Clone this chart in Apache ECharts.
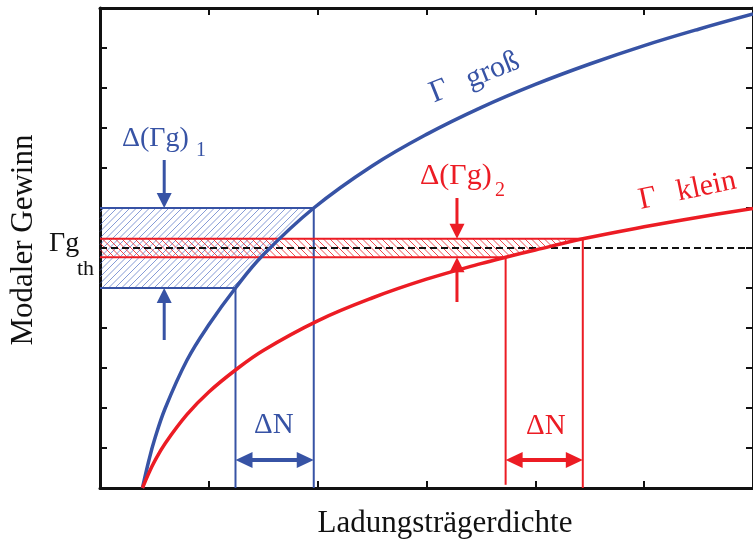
<!DOCTYPE html>
<html>
<head>
<meta charset="utf-8">
<script src="https://cdn.jsdelivr.net/npm/echarts@6/dist/echarts.min.js"></script>
<style>
  html, body { margin: 0; padding: 0; background: #ffffff; }
  #chart { width: 753px; height: 542px; }
</style>
</head>
<body>
<div id="chart"></div>
<script>
// Modal gain vs. carrier density (arbitrary units) for a large and a small confinement factor
const densityLarge = [0.39, 0.45, 0.5, 0.6, 0.8, 1.0, 1.245, 1.5, 1.964, 2.5, 3.0, 3.5, 4.0, 4.5, 5.0, 5.5, 6.0];
const gainLarge    = [0, 0.7, 1.2, 2.0, 3.2, 4.08, 5.0, 5.83, 7.0, 8.05, 8.84, 9.51, 10.09, 10.6, 11.06, 11.47, 11.85];

const densitySmall = [0.39, 0.45, 0.5, 0.6, 0.8, 1.0, 1.245, 1.5, 2.0, 2.5, 3.0, 3.5, 3.727, 4.0, 4.436, 5.0, 5.5, 6.0];
const gainSmall    = [0, 0.38, 0.66, 1.12, 1.84, 2.40, 2.95, 3.44, 4.18, 4.75, 5.22, 5.61, 5.77, 5.95, 6.23, 6.53, 6.77, 6.99];

// Threshold gain and the gain windows Δ(Γg) with the matching density windows ΔN
const thresholdGain = 6.0;
const gainWindowLarge = [5.0, 7.0];
const densityWindowLarge = [1.245, 1.964];
const gainWindowSmall = [5.77, 6.23];
const densityWindowSmall = [3.727, 4.436];

// Arrow markers: density position, tail of the downward arrow, tail of the upward arrow
const gainArrowLarge = [0.59, 8.2, 3.7];
const gainArrowSmall = [3.28, 7.25, 4.65];
const deltaNArrowLevel = 0.7;

const BLUE = '#3753a5';
const RED = '#ec1c24';
const SERIF = '"Liberation Serif", "Times New Roman", serif';

// hatch lines clipped to a polygon, drawn as plain line elements
function pointInPolygon(p, poly) {
  let inside = false;
  for (let i = 0, j = poly.length - 1; i < poly.length; j = i++) {
    const xi = poly[i][0], yi = poly[i][1], xj = poly[j][0], yj = poly[j][1];
    if ((yi > p[1]) !== (yj > p[1]) && p[0] < (xj - xi) * (p[1] - yi) / (yj - yi) + xi) inside = !inside;
  }
  return inside;
}

function hatchLines(poly, color, gap, slope, width) {
  // lines x - slope*y = const (slope>0 gives '\', slope<0 gives '/')
  const xs = poly.map(p => p[0]), ys = poly.map(p => p[1]);
  const x0 = Math.min(...xs), x1 = Math.max(...xs), y0 = Math.min(...ys), y1 = Math.max(...ys);
  const cs = [x0 - slope * y0, x0 - slope * y1, x1 - slope * y0, x1 - slope * y1];
  const cMin = Math.min(...cs), cMax = Math.max(...cs);
  const out = [];
  const step = 0.5;
  for (let c = Math.floor(cMin / gap) * gap; c <= cMax; c += gap) {
    let start = null, last = null;
    for (let y = y0; y <= y1 + 0.001; y += step) {
      const p = [c + slope * y, y];
      const ins = pointInPolygon(p, poly);
      if (ins && !start) start = p;
      if (ins) last = p;
      if ((!ins || y + step > y1 + 0.001) && start) {
        out.push({ type: 'line', shape: { x1: start[0], y1: start[1], x2: last[0], y2: last[1] },
          style: { stroke: color, lineWidth: width } });
        start = null;
      }
    }
  }
  return out;
}

const chart = echarts.init(document.getElementById('chart'), null, { renderer: 'canvas' });

function curvePoints(xs, ys) {
  return xs.map((x, i) => [x, ys[i]]);
}

// polygon between the gain axis, the two window levels and the gain curve
function windowPolygon(api, xs, ys, win, nWin) {
  const pts = [api.coord([0, win[1]]), api.coord([nWin[1], win[1]])];
  for (let i = xs.length - 1; i >= 0; i--) {
    if (xs[i] < nWin[1] && xs[i] > nWin[0]) pts.push(api.coord([xs[i], ys[i]]));
  }
  pts.push(api.coord([nWin[0], win[0]]));
  pts.push(api.coord([0, win[0]]));
  return pts;
}

function seg(a, b, color, width, dash) {
  return {
    type: 'line',
    shape: { x1: a[0], y1: a[1], x2: b[0], y2: b[1] },
    style: { stroke: color, lineWidth: width, lineDash: dash || null }
  };
}

function arrowHead(tip, dx, dy, color, len, half) {
  // dx,dy: unit direction the arrow points to
  const bx = tip[0] - dx * len, by = tip[1] - dy * len;
  return {
    type: 'polygon',
    shape: { points: [tip, [bx - dy * half, by + dx * half], [bx + dy * half, by - dx * half]] },
    style: { fill: color }
  };
}

function verticalArrow(api, n, from, to, color) {
  const a = api.coord([n, from]), b = api.coord([n, to]);
  const dir = b[1] > a[1] ? 1 : -1;
  return [
    seg(a, [b[0], b[1] - dir * 12], color, 3),
    arrowHead(b, 0, dir, color, 15, 7.5)
  ];
}

function doubleArrow(api, n0, n1, level, color) {
  const a = api.coord([n0, level]), b = api.coord([n1, level]);
  return [
    seg([a[0] + 14, a[1]], [b[0] - 14, b[1]], color, 4),
    arrowHead(a, -1, 0, color, 17, 8),
    arrowHead(b, 1, 0, color, 17, 8)
  ];
}

function renderHatch(params, api) {
  const polyLarge = windowPolygon(api, densityLarge, gainLarge, gainWindowLarge, densityWindowLarge);
  const polySmall = windowPolygon(api, densitySmall, gainSmall, gainWindowSmall, densityWindowSmall);
  return {
    type: 'group',
    children: hatchLines(polyLarge, '#5270c4', 6.5, -1, 0.7)
      .concat(hatchLines(polySmall, RED, 6.5, 1, 0.8))
  };
}

function renderMarks(params, api) {
  const c = [];
  const P = (x, y) => api.coord([x, y]);
  // large-Γ window
  c.push(seg(P(0, gainWindowLarge[1]), P(densityWindowLarge[1], gainWindowLarge[1]), BLUE, 2));
  c.push(seg(P(0, gainWindowLarge[0]), P(densityWindowLarge[0], gainWindowLarge[0]), BLUE, 2));
  c.push(seg(P(densityWindowLarge[0], gainWindowLarge[0]), P(densityWindowLarge[0], 0), BLUE, 2));
  c.push(seg(P(densityWindowLarge[1], gainWindowLarge[1]), P(densityWindowLarge[1], 0), BLUE, 2));
  // small-Γ window
  c.push(seg(P(0, gainWindowSmall[1]), P(densityWindowSmall[1], gainWindowSmall[1]), RED, 2));
  c.push(seg(P(0, gainWindowSmall[0]), P(densityWindowSmall[0], gainWindowSmall[0]), RED, 2));
  c.push(seg(P(densityWindowSmall[0], gainWindowSmall[0]), P(densityWindowSmall[0], 0.08), RED, 2));
  c.push(seg(P(densityWindowSmall[1], gainWindowSmall[1]), P(densityWindowSmall[1], 0), RED, 2));
  // threshold
  c.push(seg(P(0, thresholdGain), P(6, thresholdGain), '#111111', 2.2, [7, 4]));
  // Δ(Γg) arrows
  c.push(...verticalArrow(api, gainArrowLarge[0], gainArrowLarge[1], gainWindowLarge[1], BLUE));
  c.push(...verticalArrow(api, gainArrowLarge[0], gainArrowLarge[2], gainWindowLarge[0], BLUE));
  c.push(...verticalArrow(api, gainArrowSmall[0], gainArrowSmall[1], gainWindowSmall[1], RED));
  c.push(...verticalArrow(api, gainArrowSmall[0], gainArrowSmall[2], gainWindowSmall[0], RED));
  // ΔN arrows
  c.push(...doubleArrow(api, densityWindowLarge[0], densityWindowLarge[1], deltaNArrowLevel, BLUE));
  c.push(...doubleArrow(api, densityWindowSmall[0], densityWindowSmall[1], deltaNArrowLevel, RED));
  return { type: 'group', children: c };
}

const axisCommon = {
  type: 'value',
  min: 0,
  interval: 1,
  axisLine: { show: true, onZero: false, lineStyle: { color: '#111111', width: 3 } },
  axisTick: { show: true, inside: true, length: 7, lineStyle: { color: '#111111', width: 2 } },
  axisLabel: { show: false },
  splitLine: { show: false }
};

function label(text, x, y, color, size, extra) {
  return Object.assign({
    type: 'text', x: x, y: y, z: 100,
    style: { text: text, fill: color, font: size + 'px ' + SERIF, align: 'left', verticalAlign: 'middle' }
  }, extra || {});
}

function tiltedLabel(symbol, word, x, y, angle, color) {
  return {
    type: 'text', x: x, y: y, rotation: angle, z: 100,
    style: {
      text: '{g|' + symbol + '}{w|' + word + '}', fill: color, font: '30px ' + SERIF, verticalAlign: 'middle',
      rich: {
        g: { fontSize: 31, fontFamily: SERIF, padding: [0, 21, 0, 0] },
        w: { fontSize: 30, fontFamily: SERIF }
      }
    }
  };
}

chart.setOption({
  animation: false,
  backgroundColor: '#ffffff',
  grid: { left: 100, top: 8, width: 660, height: 480 },
  xAxis: [
    Object.assign({}, axisCommon, { max: 6, position: 'bottom' }),
    Object.assign({}, axisCommon, { max: 6, position: 'top' })
  ],
  yAxis: [
    Object.assign({}, axisCommon, { max: 12, position: 'left' }),
    Object.assign({}, axisCommon, { max: 12, position: 'right' })
  ],
  series: [
    { type: 'custom', name: 'hatch', z: 1, silent: true, data: [[0, 0]], renderItem: renderHatch },
    { type: 'custom', name: 'marks', z: 2, silent: true, data: [[0, 0]], renderItem: renderMarks },
    {
      type: 'line', name: 'Γ groß', z: 3, smooth: 0.4, symbol: 'none', silent: true,
      data: curvePoints(densityLarge, gainLarge),
      lineStyle: { color: BLUE, width: 3.5 }
    },
    {
      type: 'line', name: 'Γ klein', z: 3, smooth: 0.4, symbol: 'none', silent: true,
      data: curvePoints(densitySmall, gainSmall),
      lineStyle: { color: RED, width: 3.5 }
    }
  ],
  graphic: [
    label('Δ(Γg)', 122, 139, BLUE, 28),
    label('1', 196, 151, BLUE, 20),
    label('Δ(Γg)', 420, 176, RED, 30),
    label('2', 495, 191, RED, 20),
    label('ΔN', 254, 425, BLUE, 29),
    label('ΔN', 526, 426, RED, 29),
    label('Γg', 49, 244, '#111111', 28),
    label('th', 77, 269, '#111111', 22),
    tiltedLabel('Γ', 'groß', 431, 95, 0.38, BLUE),
    tiltedLabel('Γ', 'klein', 639, 201, 0.21, RED),
    {
      type: 'text', x: 445, y: 524, z: 100,
      style: { text: 'Ladungsträgerdichte', fill: '#111111', font: '31px ' + SERIF, align: 'center', verticalAlign: 'middle' }
    },
    {
      type: 'text', x: 24, y: 240, rotation: Math.PI / 2, z: 100,
      style: { text: 'Modaler Gewinn', fill: '#111111', font: '31px ' + SERIF, align: 'center', verticalAlign: 'middle' }
    }
  ]
});
</script>
</body>
</html>
